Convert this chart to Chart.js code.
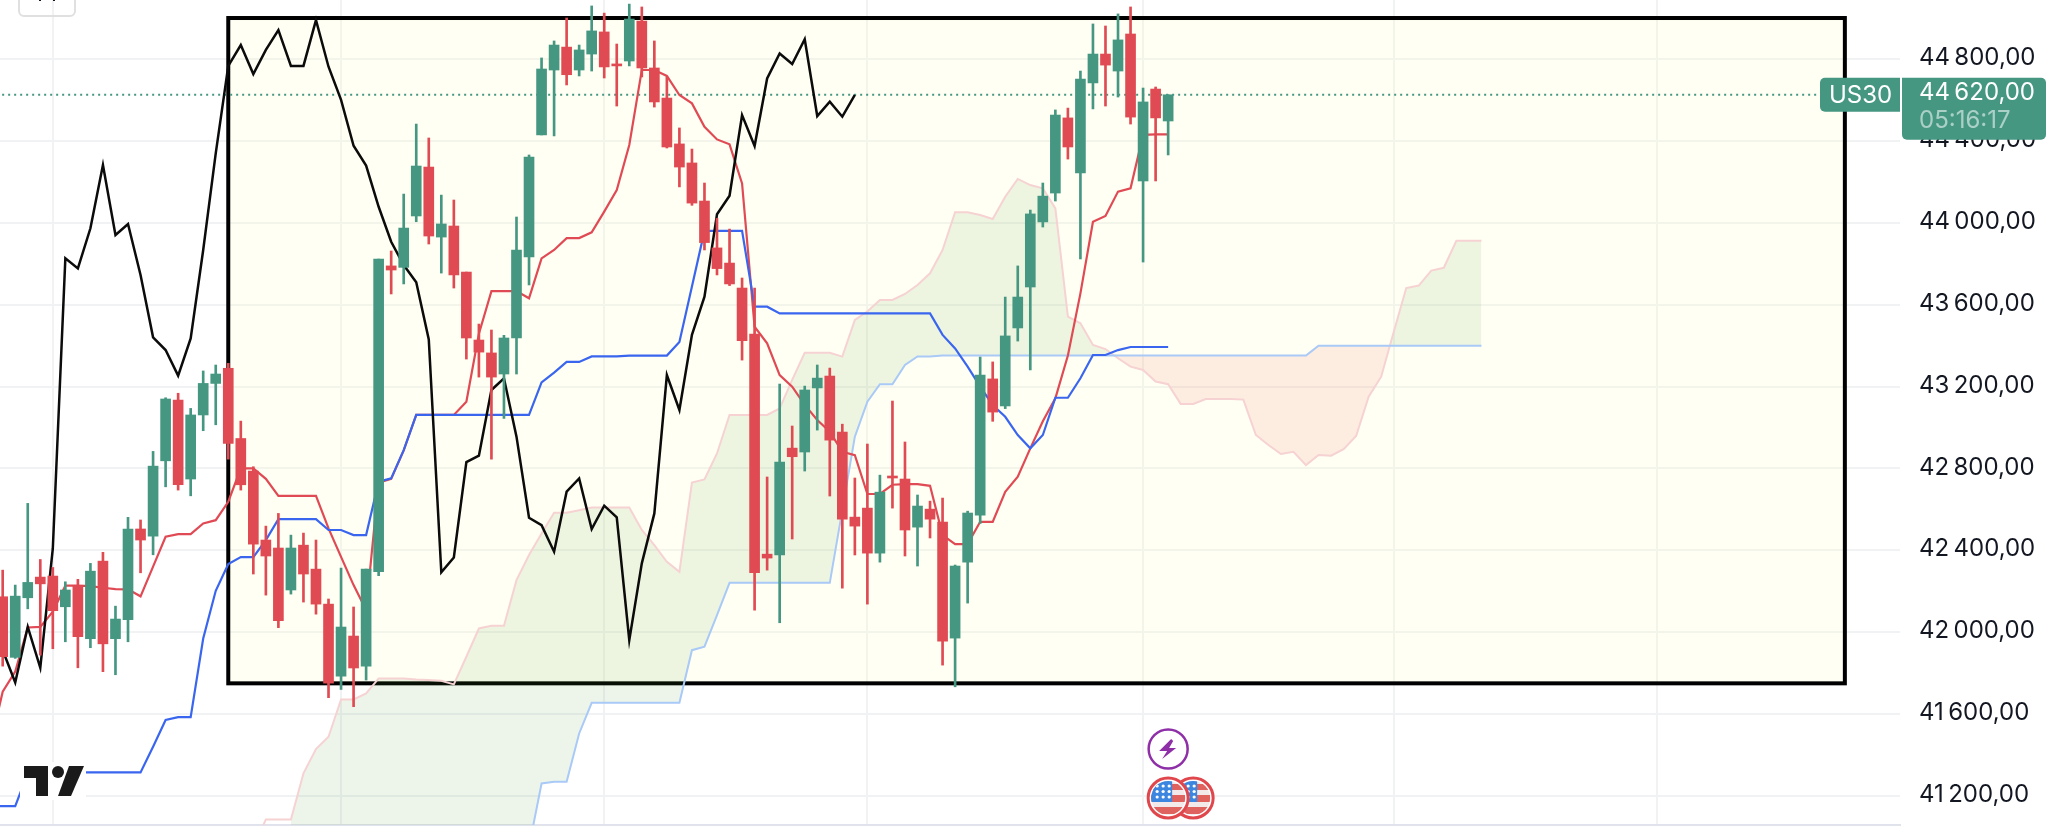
<!DOCTYPE html>
<html>
<head>
<meta charset="utf-8">
<title>US30</title>
<script src="https://cdn.jsdelivr.net/npm/chart.js@4/dist/chart.umd.min.js"></script>
<style>
	html, body { margin: 0; padding: 0; background: #fff; overflow: hidden; }
	canvas { display: block; }
</style>
</head>
<body>
<canvas id="chart" width="2049" height="837"></canvas>
<script>
// bougies, une valeur par séance
const opens = [42173,41877,42168,42269,42274,42124,42228,41968,42347,41968,42061,42504,42469,42837,43134,42748,43061,43215,43289,42946,42787,42450,42411,42206,42425,42308,42137,41785,41981,41834,42295,43789,43782,44033,44272,43930,43984,43759,43427,43364,43261,43437,43833,44429,44746,44858,44746,44824,44932,44775,44790,44985,44756,44609,44385,44292,44106,43877,43803,43681,43456,42381,42377,42899,42880,43193,43251,42977,42562,42606,42386,42762,42748,42513,42601,42538,41971,42342,42572,43237,43105,43486,43686,44004,44145,44512,44243,44683,44824,44741,44922,44204,44653,44497];
const highs = [42303,42230,42629,42355,42316,42246,42258,42336,42390,42127,42561,42548,42883,43145,43167,43093,43276,43305,43313,43031,42808,42518,42580,42474,42484,42450,42162,42313,42123,42308,43823,43862,44140,44482,44414,44135,44111,43759,43505,43476,43450,44028,44331,44805,44888,45000,44868,45059,45024,44873,45068,45054,44888,44713,44463,44360,44194,44021,43969,43730,43681,42758,43212,43007,43202,43305,43290,43016,42753,42919,42767,43129,42929,42670,42640,42655,42328,42591,43344,43320,43637,43789,44062,44194,44551,44560,44741,44971,44961,45020,45054,44658,44663,44625];
const lows = [41834,41872,42114,41888,41919,41953,41826,41924,41807,41792,41953,42290,42378,42710,42694,42666,42984,43013,42845,42694,42284,42181,42022,42186,42147,42088,41680,41720,41636,41766,42276,43652,43701,44005,43896,43754,43681,43334,43246,42845,43044,43261,43696,44429,44424,44673,44717,44741,44707,44570,44766,44712,44565,44365,44175,44085,43867,43745,43693,43329,42108,42303,42046,42455,42787,42987,42665,42215,42377,42137,42342,42606,42372,42323,42460,41839,41733,42142,42531,43030,43092,43422,43281,43979,44106,44311,43823,44556,44570,44614,44482,43808,44204,44331];
const closes = [41880,42176,42243,42236,42105,42206,41978,42298,41943,42064,42504,42450,42811,43139,42720,43061,43215,43261,42922,42720,42430,42372,42056,42411,42284,42137,41751,42025,41825,42308,43823,43769,43974,44277,43935,43994,43745,43437,43368,43246,43437,43867,44321,44751,44868,44723,44844,44937,44761,44766,44995,44756,44590,44370,44272,44096,43903,43776,43701,43424,42290,42362,42831,42857,43183,43241,42938,42552,42518,42386,42684,42753,42499,42616,42552,41956,42323,42582,43256,43075,43447,43637,44043,44130,44526,44370,44702,44824,44770,44893,44516,44590,44512,44625];

// Ichimoku : les lignes démarrent une bougie avant le bord gauche
const lineStart = -1;
const tenkan = [41445,41709,41807,42023,42026,42100,42227,42227,42225,42217,42210,42209,42175,42320,42466,42479,42479,42531,42547,42637,42800,42800,42749,42666,42666,42666,42666,42507,42368,42230,42108,42730,42749,42888,43061,43061,43061,43061,43126,43458,43666,43666,43666,43631,43826,43867,43925,43925,43953,44054,44160,44380,44746,44746,44717,44624,44583,44469,44407,44383,44192,43492,43411,43256,43199,43110,43036,42979,42881,42865,42675,42675,42720,42723,42723,42715,42474,42430,42430,42539,42539,42686,42759,42898,43030,43142,43351,43655,44005,44033,44152,44168,44429,44432,44432];
const kijun = [41150,41150,41150,41310,41315,41315,41315,41315,41315,41315,41315,41315,41315,41440,41571,41585,41585,41969,42202,42333,42367,42367,42450,42552,42552,42552,42552,42499,42499,42474,42474,42735,42751,42889,43061,43061,43061,43061,43061,43061,43061,43061,43061,43061,43220,43268,43320,43320,43347,43347,43347,43351,43351,43351,43351,43417,43688,43960,43960,43960,43960,43590,43590,43557,43557,43557,43557,43557,43557,43557,43557,43557,43557,43557,43557,43557,43452,43386,43297,43199,43110,43052,42963,42898,42963,43145,43145,43240,43354,43354,43378,43393,43393,43393,43393];
const chikou = [42445,41912,41754,42026,41826,42409,43826,43777,43973,44282,43940,43994,43745,43440,43378,43253,43435,43867,44339,44766,44868,44726,44844,44941,44766,44766,44990,44762,44600,44376,44279,44078,43907,43793,43709,43430,42292,42365,42831,42862,43183,43240,42955,42559,42523,42393,42686,42751,42504,42618,42561,41961,42336,42580,43256,43085,43452,43639,44041,44132,44526,44375,44705,44827,44775,44896,44521,44591,44518,44624];
// les deux bornes du nuage commencent plus loin que la bougie 0
const spanAStart = 20;
const spanA = [40950,41085,41085,41085,41310,41429,41489,41671,41671,41701,41774,41774,41774,41769,41766,41763,41745,41880,42018,42031,42031,42254,42377,42482,42583,42583,42596,42609,42609,42609,42609,42499,42425,42344,42295,42731,42746,42873,43061,43061,43061,43061,43093,43232,43365,43365,43365,43346,43525,43566,43623,43623,43652,43696,43753,43867,44051,44051,44038,44018,44127,44214,44184,44168,44070,43541,43509,43403,43383,43338,43297,43281,43224,43211,43115,43115,43139,43139,43139,43136,42963,42914,42870,42881,42816,42865,42862,42894,42958,43150,43248,43466,43681,43693,43766,43780,43912,43912,43912];
const spanBStart = 23;
const spanB = [40900,40900,40900,40900,40900,40900,40900,40900,40900,40900,40900,40900,40900,40900,40900,40900,40900,40900,40900,40952,41261,41269,41269,41505,41655,41655,41655,41655,41655,41655,41655,41655,41912,41929,42083,42241,42241,42241,42241,42241,42241,42241,42241,42241,42596,42955,43126,43211,43211,43305,43347,43347,43351,43351,43351,43351,43351,43351,43351,43351,43351,43351,43351,43351,43351,43351,43351,43351,43351,43351,43351,43351,43351,43351,43351,43351,43351,43351,43351,43351,43351,43351,43399,43399,43399,43399,43399,43399,43399,43399,43399,43399,43399,43399,43399,43399];

const priceTicks = [44800,44400,44000,43600,43200,42800,42400,42000,41600,41200];
const timeGrid = [4,27,48,69,91,111,132];
const lastPrice = 44625;
const symbolName = "US30";
const lastPriceLabel = "44\u2009620,00";
const countdownLabel = "05:16:17";

// rectangle dessiné sur le graphique, en bougies et en prix
const boxFrom = 18;
const boxTo = 147;
const boxTop = 45000;
const boxBottom = 41750;

const GREEN = "#459782";
const RED = "#e04a52";
const FONT = "Inter";

function points(values, start) {
	return values.map((y, i) => ({ x: i + (start || 0), y: y }));
}

function candleColor(ctx) {
	const i = ctx.dataIndex;
	return closes[i] >= opens[i] ? GREEN : RED;
}

function lineSet(values, color, width, order, start) {
	return {
		type: "line",
		data: points(values, start),
		borderColor: color,
		borderWidth: width,
		pointRadius: 0,
		tension: 0,
		fill: false,
		order: order,
	};
}

function priceLabel(v) {
	const s = String(v);
	return s.slice(0, 2) + "\u2009" + s.slice(2) + ",00";
}

const boxPlugin = {
	id: "box",
	beforeDatasetsDraw(chart) {
		const x = chart.scales.x, y = chart.scales.y, c = chart.ctx;
		const l = x.getPixelForValue(boxFrom), r = x.getPixelForValue(boxTo);
		const t = y.getPixelForValue(boxTop), b = y.getPixelForValue(boxBottom);
		c.save();
		c.fillStyle = "rgba(255,255,190,0.18)";
		c.fillRect(l, t, r - l, b - t);
		c.strokeStyle = "#000";
		c.lineWidth = 4;
		c.strokeRect(l, t, r - l, b - t);
		c.restore();
	},
};

function drawLogo(c) {
	c.fillStyle = "#fff";
	c.fillRect(20, 762, 66, 38);
	c.fillStyle = "#1a1a1a";
	c.beginPath();
	c.moveTo(24, 766); c.lineTo(48, 766); c.lineTo(48, 796); c.lineTo(36, 796); c.lineTo(36, 778); c.lineTo(24, 778);
	c.closePath();
	c.fill();
	c.beginPath();
	c.arc(58, 772, 6, 0, Math.PI * 2);
	c.fill();
	c.beginPath();
	c.moveTo(69, 766); c.lineTo(84, 766); c.lineTo(71, 796); c.lineTo(58, 796);
	c.closePath();
	c.fill();
}

function drawFlag(c, cx, cy) {
	const r = 18;
	c.save();
	c.beginPath();
	c.arc(cx, cy, r + 3, 0, Math.PI * 2);
	c.fillStyle = "#fff";
	c.fill();
	c.beginPath();
	c.arc(cx, cy, r - 1, 0, Math.PI * 2);
	c.clip();
	c.fillStyle = "#f3e9ea";
	c.fillRect(cx - r, cy - r, r * 2, r * 2);
	c.fillStyle = "#e0625f";
	c.fillRect(cx - r, cy - 14, r * 2, 6);
	c.fillRect(cx - r, cy - 3, r * 2, 7);
	c.fillRect(cx - r, cy + 9, r * 2, 7);
	c.fillStyle = "#3d86e0";
	c.fillRect(cx - r, cy - r, r + 4, r + 4);
	c.fillStyle = "#fff";
	for (let row = 0; row < 3; row++) {
		for (let col = 0; col < 3; col++) {
			c.beginPath();
			c.arc(cx - 11 + col * 6, cy - 12 + row * 5.5, 1.6, 0, Math.PI * 2);
			c.fill();
		}
	}
	c.restore();
	c.beginPath();
	c.arc(cx, cy, r + 2, 0, Math.PI * 2);
	c.strokeStyle = "#e0474c";
	c.lineWidth = 3;
	c.stroke();
}

function drawEvents(c, cx) {
	// éclair violet
	c.beginPath();
	c.arc(cx, 749, 19.5, 0, Math.PI * 2);
	c.strokeStyle = "#8e2fa8";
	c.lineWidth = 2.5;
	c.fillStyle = "#fff";
	c.fill();
	c.stroke();
	c.fillStyle = "#8e2fa8";
	c.beginPath();
	c.moveTo(cx + 3, 739); c.lineTo(cx - 9, 751); c.lineTo(cx - 1, 751); c.lineTo(cx - 6, 759);
	c.lineTo(cx + 8, 748); c.lineTo(cx + 1, 748); c.lineTo(cx + 5, 741);
	c.closePath();
	c.fill();
	drawFlag(c, cx + 25, 798);
	drawFlag(c, cx, 798);
}

const overlayPlugin = {
	id: "overlay",
	afterDraw(chart) {
		const c = chart.ctx, area = chart.chartArea;
		const py = chart.scales.y.getPixelForValue(lastPrice);
		c.save();
		// étiquettes à droite
		c.fillStyle = GREEN;
		c.beginPath();
		c.roundRect(area.right - 80, py - 17, 80, 34, [5, 0, 0, 5]);
		c.fill();
		c.beginPath();
		c.roundRect(area.right + 2, py - 17, 144, 62, [0, 5, 5, 5]);
		c.fill();
		c.font = "24px " + FONT;
		c.textBaseline = "middle";
		c.textAlign = "left";
		c.fillStyle = "#fff";
		c.fillText(symbolName, area.right - 71, py + 0.5);
		c.fillText(lastPriceLabel, area.right + 19, py - 2);
		c.fillStyle = "rgba(255,255,255,0.55)";
		c.fillText(countdownLabel, area.right + 19, py + 26);
		// bouton coupé en haut à gauche
		c.strokeStyle = "#e0e0e0";
		c.lineWidth = 2;
		c.beginPath();
		c.roundRect(19, -12, 56, 28, 5);
		c.stroke();
		c.fillStyle = "#131722";
		c.fillRect(39, 0, 2, 1);
		c.fillRect(53, 0, 2, 1);
		drawLogo(c);
		drawEvents(c, chart.scales.x.getPixelForValue(opens.length - 1));
		c.restore();
	},
};

new Chart(document.getElementById("chart"), {
	data: {
		datasets: [
			// ordre le plus bas = dessiné par-dessus
			{
				type: "bar",
				data: opens.map((o, i) => ({ x: i, y: [o, closes[i]] })),
				backgroundColor: candleColor,
				barThickness: 10,
				minBarLength: 2,
				grouped: false,
				order: 1,
			},
			{
				type: "bar",
				data: lows.map((l, i) => ({ x: i, y: [l, highs[i]] })),
				backgroundColor: candleColor,
				barThickness: 2,
				grouped: false,
				order: 2,
			},
			lineSet(chikou, "#0b0b0b", 2.5, 3, lineStart),
			lineSet(kijun, "#3a66ef", 2.2, 4, lineStart),
			lineSet(tenkan, "#e04a55", 2.2, 5, lineStart),
			{
				type: "line",
				data: [{ x: -1, y: lastPrice }, { x: 152, y: lastPrice }],
				borderColor: GREEN,
				borderWidth: 2,
				borderDash: [2, 4],
				pointRadius: 0,
				fill: false,
				order: 6,
			},
			lineSet(spanB, "#a9c9f7", 2, 7, spanBStart),
			Object.assign(lineSet(spanA, "#f6d2d3", 2, 8, spanAStart), {
				fill: { target: 6, above: "rgba(76,160,60,0.1)", below: "rgba(235,70,60,0.1)" },
			}),
		],
	},
	options: {
		responsive: false,
		animation: false,
		layout: { padding: 0 },
		plugins: { legend: { display: false }, tooltip: { enabled: false } },
		scales: {
			x: {
				type: "linear",
				offset: false,
				min: -0.215,
				max: 151.4,
				afterBuildTicks(scale) {
					scale.ticks = timeGrid.map((v) => ({ value: v }));
				},
				afterFit(scale) {
					scale.height = 12;
					scale.paddingLeft = 0;
					scale.paddingRight = 0;
				},
				ticks: { display: false },
				grid: { color: "#f1f2f4", lineWidth: 2, drawTicks: false, offset: false },
				border: { display: true, color: "#e0e3eb", width: 2 },
			},
			y: {
				position: "right",
				min: 41058,
				max: 45088,
				afterBuildTicks(scale) {
					scale.ticks = priceTicks.map((v) => ({ value: v }));
				},
				afterFit(scale) {
					scale.width = 149;
					scale.paddingTop = 0;
					scale.paddingBottom = 0;
				},
				ticks: {
					autoSkip: false,
					padding: 19,
					color: "#131722",
					labelOffset: -1,
					font: { family: FONT, size: 24 },
					callback: priceLabel,
				},
				grid: { color: "#f1f2f4", lineWidth: 2, drawTicks: false },
				border: { display: false },
			},
		},
	},
	plugins: [boxPlugin, overlayPlugin],
});
</script>
</body>
</html>
